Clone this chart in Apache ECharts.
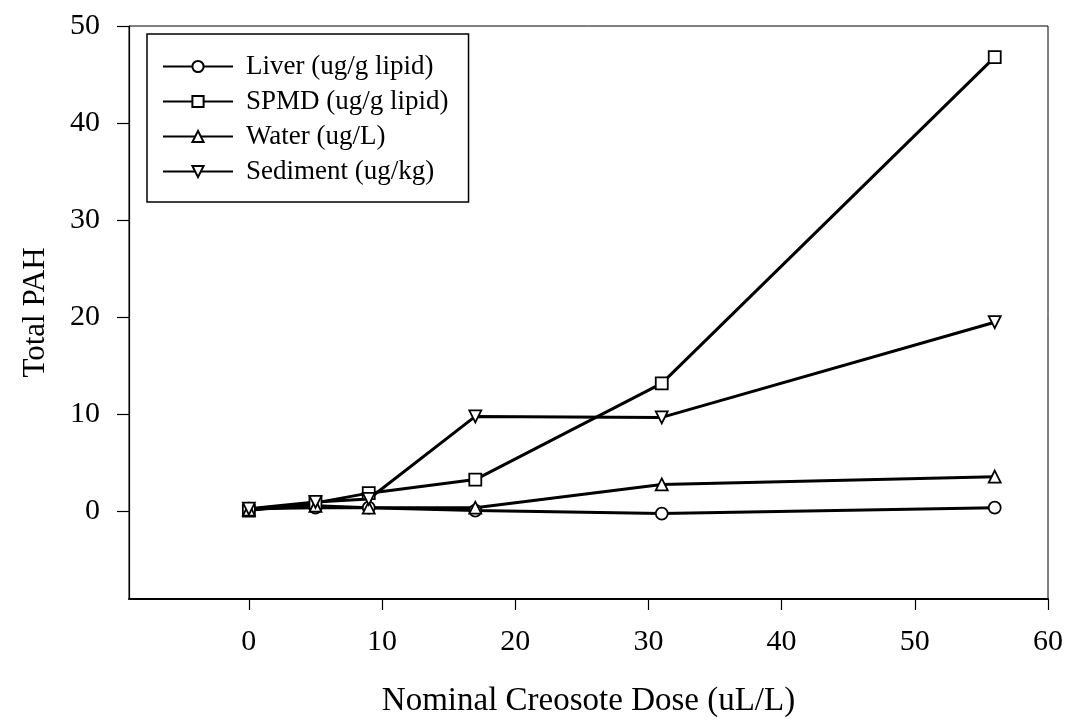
<!DOCTYPE html>
<html>
<head>
<meta charset="utf-8">
<script src="https://cdn.jsdelivr.net/npm/echarts@6/dist/echarts.min.js"></script>
<style>
  html, body { margin: 0; padding: 0; background: #fff; }
  #chart { width: 1066px; height: 728px; }
</style>
</head>
<body>
<div id="chart"></div>
<script>
// Data
const doses = [0, 5, 9, 17, 31, 56];
const liver = [0.3, 0.4, 0.4, 0.1, -0.2, 0.4];
const spmd = [0.1, 0.9, 1.9, 3.3, 13.2, 46.8];
const water = [0.2, 0.6, 0.4, 0.4, 2.8, 3.6];
const sediment = [0.3, 1.0, 1.3, 9.8, 9.7, 19.5];
const xTicks = [0, 10, 20, 30, 40, 50, 60];
const yTicks = [0, 10, 20, 30, 40, 50];
const seriesNames = ['Liver (ug/g lipid)', 'SPMD (ug/g lipid)', 'Water (ug/L)', 'Sediment (ug/kg)'];

const FONT = "'Liberation Serif', 'Times New Roman', serif";

function pairs(ys) { return doses.map((d, i) => [d, ys[i]]); }

function mkSeries(name, ys, symbol, rotate) {
  return {
    name: name,
    type: 'line',
    data: pairs(ys),
    symbol: symbol,
    symbolSize: 12,
    symbolRotate: rotate || 0,
    showAllSymbol: true,
    lineStyle: { color: '#000', width: 3 },
    itemStyle: { color: '#fff', borderColor: '#000', borderWidth: 1.8 },
    emphasis: { disabled: true },
    animation: false
  };
}

const chart = echarts.init(document.getElementById('chart'));
chart.setOption({
  backgroundColor: '#fff',
  animation: false,
  grid: {
    left: 129, right: 17, top: 26, bottom: 129,
    show: true, borderColor: '#000', borderWidth: 1
  },
  legend: {
    orient: 'vertical',
    left: 147, top: 34,
    data: seriesNames,
    borderColor: '#000', borderWidth: 1.5,
    padding: [19, 20, 17, 15],
    itemWidth: 70, itemHeight: 14, itemGap: 8,
    textStyle: { fontFamily: FONT, fontSize: 27, color: '#000', lineHeight: 26, padding: [0, 0, 0, 8] },
    selectedMode: false
  },
  xAxis: {
    type: 'value', min: -9, max: 60,
    name: 'Nominal Creosote Dose (uL/L)', nameLocation: 'middle', nameGap: 86,
    nameTextStyle: { fontFamily: FONT, fontSize: 33, color: '#000' },
    axisLine: { show: true, onZero: false, lineStyle: { color: '#000', width: 2 } },
    axisTick: { show: true, customValues: xTicks, length: 11, lineStyle: { color: '#000', width: 1.2 } },
    axisLabel: { customValues: xTicks, fontFamily: FONT, fontSize: 30, color: '#000', margin: 28 },
    splitLine: { show: false }
  },
  yAxis: {
    type: 'value', min: -9, max: 50,
    name: 'Total PAH', nameLocation: 'middle', nameGap: 78,
    nameTextStyle: { fontFamily: FONT, fontSize: 31, color: '#000' },
    axisLine: { show: true, onZero: false, lineStyle: { color: '#000', width: 1.2 } },
    axisTick: { show: true, customValues: yTicks, length: 12, lineStyle: { color: '#000', width: 1.2 } },
    axisLabel: { customValues: yTicks, fontFamily: FONT, fontSize: 30, color: '#000', margin: 29 },
    splitLine: { show: false }
  },
  series: [
    mkSeries(seriesNames[0], liver, 'circle'),
    mkSeries(seriesNames[1], spmd, 'rect'),
    mkSeries(seriesNames[2], water, 'triangle'),
    mkSeries(seriesNames[3], sediment, 'triangle', 180)
  ]
});
</script>
</body>
</html>
